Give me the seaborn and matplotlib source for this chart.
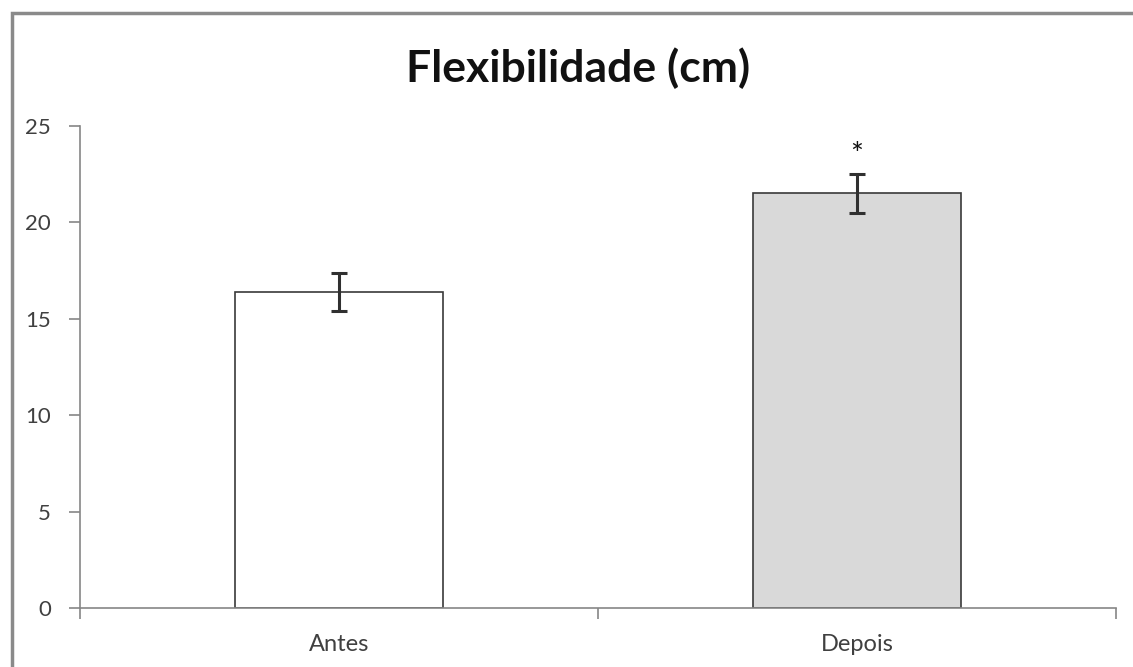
import matplotlib.pyplot as plt
import matplotlib.patches as mpatches
import seaborn as sns

# chart data
grupos = ["Antes", "Depois"]
medias = [16.4, 21.5]
erros = [1.0, 1.0]
cores = ["#ffffff", "#d9d9d9"]
marca = ["", "*"]

sns.set_style("white")
plt.rcParams['font.family'] = ['Lato', 'DejaVu Sans']

f = plt.figure(figsize=(11.33, 6.67), dpi=100)
ax = f.add_axes([80 / 1133, 1 - 608 / 667, (1116 - 80) / 1133, (608 - 126) / 667])

sns.barplot(x=grupos, y=medias, hue=grupos, palette=cores, legend=False,
            width=0.4, edgecolor="#3a3a3a", linewidth=1.2, ax=ax)
ax.errorbar(grupos, medias, yerr=erros, fmt="none", ecolor="#303030",
            elinewidth=2.2, capsize=6, capthick=2.2, zorder=5)

# asterisco de significancia
for g, m, e, s in zip(grupos, medias, erros, marca):
    if s:
        ax.text(g, m + e + 1.0, s, ha="center", va="center", fontsize=22, color="#111111")

ax.set_ylim(0, 25)
ax.set_xlim(-0.5, 1.5)
ax.set_yticks([0, 5, 10, 15, 20, 25])
ax.set_xticks([-0.5, 0.5, 1.5], minor=False)
ax.set_xticks([0, 1], minor=True)
ax.set_xticklabels(["", "", ""])
ax.set_xticklabels(grupos, minor=True)
ax.tick_params(axis="x", which="major", direction="out", length=8, color="#868686", width=1.2, bottom=True)
ax.tick_params(axis="x", which="minor", length=0, labelsize=17, colors="#404040", pad=19)
ax.tick_params(axis="y", direction="out", length=8, color="#868686", width=1.2, left=True,
               labelsize=16, labelcolor="#404040", pad=13)

for side in ["top", "right"]:
    ax.spines[side].set_visible(False)
for side in ["left", "bottom"]:
    ax.spines[side].set_color("#868686")
    ax.spines[side].set_linewidth(1.2)
ax.set_xlabel("")
ax.set_ylabel("")

f.text(578 / 1133, 1 - 68 / 667, "Flexibilidade (cm)", ha="center", va="center",
       fontsize=32, fontweight="bold", color="#111111")

# moldura do grafico
f.patches.append(mpatches.Rectangle((12 / 1133, -0.1), 1.2, 1 - 13 / 667 + 0.1,
                                    transform=f.transFigure, fill=False,
                                    edgecolor="#8a8a8a", linewidth=2.5))

f.savefig("out.png", dpi=100)
